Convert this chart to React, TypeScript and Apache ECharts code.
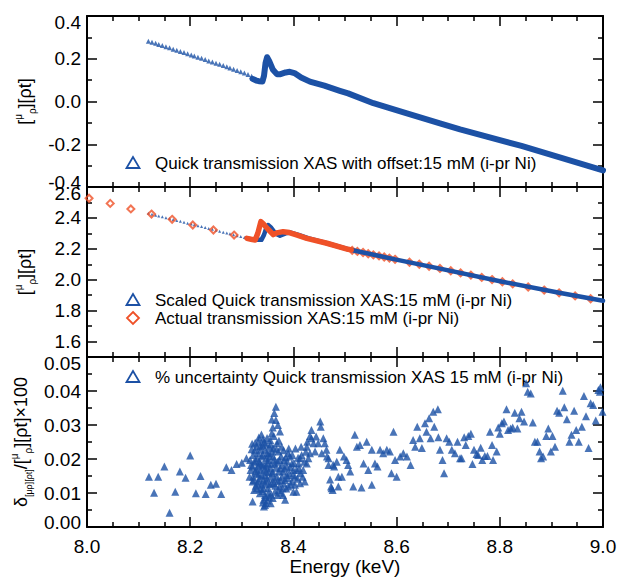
import React, { useEffect, useRef } from "react";
import * as echarts from "echarts";

const FONT = "'Liberation Sans', Arial, Helvetica, sans-serif";
const BLUE = "#1c51a5";
const RED = "#ef5128";

// ---------- Panel 1: quick transmission XAS with offset ----------
const p1PreX = [8.119, 8.126, 8.133, 8.139, 8.146, 8.153, 8.16, 8.167, 8.174, 8.181, 8.188, 8.195, 8.202, 8.208, 8.215, 8.222, 8.229, 8.236, 8.243, 8.25, 8.257, 8.264, 8.271, 8.277, 8.284, 8.291, 8.298, 8.305, 8.312, 8.319];
const p1PreY = [0.282, 0.277, 0.272, 0.267, 0.262, 0.256, 0.251, 0.245, 0.24, 0.234, 0.229, 0.223, 0.218, 0.213, 0.207, 0.202, 0.196, 0.19, 0.185, 0.179, 0.174, 0.168, 0.162, 0.157, 0.151, 0.145, 0.139, 0.133, 0.126, 0.118];
const p1EdgeX = [8.321, 8.328, 8.333, 8.34, 8.343, 8.346, 8.349, 8.353, 8.36, 8.368, 8.375, 8.385, 8.393, 8.402, 8.415, 8.432, 8.46, 8.49, 8.506, 8.555, 8.62, 8.684, 8.723, 8.842, 9.0];
const p1EdgeY = [0.106, 0.098, 0.095, 0.094, 0.12, 0.18, 0.207, 0.19, 0.15, 0.128, 0.128, 0.136, 0.139, 0.133, 0.112, 0.093, 0.074, 0.05, 0.038, -0.008, -0.055, -0.102, -0.13, -0.208, -0.322];

// ---------- Panel 2: scaled quick vs actual ----------
const p2QuickPreX = [8.119, 8.126, 8.133, 8.139, 8.146, 8.153, 8.16, 8.167, 8.174, 8.181, 8.188, 8.195, 8.202, 8.208, 8.215, 8.222, 8.229, 8.236, 8.243, 8.25, 8.257, 8.264, 8.271, 8.277, 8.284, 8.291, 8.298, 8.305, 8.312, 8.319];
const p2QuickPreY = [2.43, 2.424, 2.418, 2.413, 2.407, 2.401, 2.396, 2.39, 2.384, 2.378, 2.372, 2.366, 2.361, 2.356, 2.35, 2.344, 2.338, 2.332, 2.326, 2.32, 2.314, 2.308, 2.302, 2.297, 2.291, 2.285, 2.279, 2.273, 2.267, 2.262];
const p2QuickX = [8.322, 8.33, 8.338, 8.343, 8.347, 8.351, 8.356, 8.365, 8.374, 8.385, 8.395, 8.41, 8.43, 8.465, 8.506, 8.597, 8.684, 8.805, 8.915, 9.0];
const p2QuickY = [2.262, 2.258, 2.258, 2.29, 2.33, 2.354, 2.34, 2.3, 2.285, 2.3, 2.305, 2.29, 2.268, 2.236, 2.197, 2.132, 2.072, 1.987, 1.916, 1.864];
const p2ActualLineX = [8.31, 8.318, 8.326, 8.331, 8.337, 8.342, 8.35, 8.361, 8.37, 8.38, 8.392, 8.406, 8.426, 8.465, 8.506, 8.512];
const p2ActualLineY = [2.268, 2.262, 2.257, 2.3, 2.376, 2.36, 2.33, 2.292, 2.305, 2.311, 2.305, 2.29, 2.268, 2.236, 2.197, 2.193];
const p2ActualDotX = [8.004, 8.045, 8.085, 8.125, 8.165, 8.205, 8.245, 8.285, 8.514, 8.524, 8.535, 8.545, 8.555, 8.566, 8.576, 8.586, 8.597, 8.625, 8.644, 8.663, 8.684, 8.705, 8.724, 8.744, 8.765, 8.785, 8.805, 8.825, 8.855, 8.886, 8.915, 8.946, 8.976];
const p2ActualDotY = [2.527, 2.494, 2.458, 2.425, 2.391, 2.354, 2.322, 2.289, 2.19, 2.183, 2.176, 2.168, 2.161, 2.154, 2.147, 2.14, 2.132, 2.113, 2.1, 2.087, 2.073, 2.058, 2.044, 2.03, 2.015, 2.001, 1.987, 1.973, 1.953, 1.933, 1.915, 1.895, 1.877];

// ---------- Panel 3: % uncertainty [energy, value] ----------
const p3Points: [number, number][] = [
  [8.12, 0.0148], [8.13, 0.0101], [8.138, 0.0148], [8.15, 0.0178], [8.16, 0.0042], [8.171, 0.0104], [8.18, 0.0163], [8.191, 0.0145], [8.2, 0.021], [8.211, 0.0099], [8.22, 0.015], [8.23, 0.0097], [8.24, 0.0124], [8.25, 0.0127], [8.26, 0.0097], [8.27, 0.0176], [8.28, 0.0168], [8.29, 0.0185], [8.3, 0.0189], [8.309, 0.0202],
  [8.319, 0.0229], [8.322, 0.0212], [8.324, 0.0192], [8.321, 0.0178], [8.326, 0.0163], [8.322, 0.0148], [8.321, 0.0134], [8.327, 0.0121], [8.324, 0.0109], [8.332, 0.0251], [8.337, 0.0227], [8.338, 0.0207], [8.335, 0.0187], [8.337, 0.0168], [8.334, 0.0143], [8.338, 0.0124], [8.335, 0.0099], [8.321, 0.0075], [8.342, 0.008], [8.343, 0.006], [8.347, 0.007], [8.345, 0.0094], [8.342, 0.0114], [8.342, 0.0138], [8.345, 0.0153], [8.348, 0.0178], [8.351, 0.0197], [8.349, 0.0217], [8.353, 0.0236], [8.355, 0.0256], [8.358, 0.0276], [8.36, 0.0293], [8.366, 0.0315], [8.366, 0.0354], [8.374, 0.0281], [8.368, 0.0246], [8.371, 0.0222], [8.361, 0.0207], [8.364, 0.0187], [8.36, 0.0163], [8.368, 0.0148], [8.362, 0.0129], [8.371, 0.0109], [8.364, 0.0104], [8.36, 0.0085], [8.38, 0.0094], [8.384, 0.008], [8.379, 0.0114], [8.384, 0.0138], [8.38, 0.0163], [8.387, 0.0178], [8.382, 0.0197], [8.39, 0.0217], [8.377, 0.0236], [8.393, 0.0207], [8.397, 0.0187], [8.392, 0.0158], [8.397, 0.0134], [8.39, 0.0119], [8.4, 0.0104], [8.406, 0.0104], [8.403, 0.0148], [8.406, 0.0168], [8.41, 0.0187], [8.413, 0.0202], [8.416, 0.0212], [8.413, 0.0158], [8.419, 0.0168], [8.422, 0.0134], [8.426, 0.0187], [8.429, 0.0202], [8.432, 0.0217], [8.426, 0.0236], [8.435, 0.0261], [8.439, 0.0246], [8.444, 0.0266], [8.448, 0.0246], [8.452, 0.031], [8.453, 0.0295], [8.458, 0.0261], [8.461, 0.0246], [8.464, 0.0227], [8.455, 0.0217], [8.468, 0.0202], [8.471, 0.014], [8.474, 0.0114], [8.477, 0.0183], [8.484, 0.0192], [8.487, 0.0148], [8.442, 0.0222], [8.432, 0.0268], [8.427, 0.0251],
  [8.329, 0.0236], [8.33, 0.0202], [8.332, 0.0178], [8.329, 0.0158], [8.332, 0.0134], [8.329, 0.0114], [8.34, 0.0241], [8.345, 0.0227], [8.347, 0.0202], [8.343, 0.0183], [8.347, 0.0163], [8.348, 0.0134], [8.351, 0.0114], [8.353, 0.0089], [8.355, 0.0173], [8.356, 0.0148], [8.358, 0.0129], [8.353, 0.0217], [8.361, 0.0232], [8.373, 0.0197], [8.374, 0.0173], [8.375, 0.0138], [8.373, 0.0119], [8.387, 0.0153], [8.4, 0.0168], [8.403, 0.0124], [8.413, 0.0129], [8.317, 0.0168], [8.316, 0.0197], [8.315, 0.0148], [8.435, 0.0285], [8.465, 0.0207],
  [8.318, 0.0182], [8.32, 0.0245], [8.323, 0.0138], [8.325, 0.0226], [8.327, 0.0195], [8.328, 0.0171], [8.33, 0.0128], [8.331, 0.0218], [8.333, 0.0155], [8.333, 0.0263], [8.334, 0.0192], [8.336, 0.0112], [8.336, 0.0238], [8.339, 0.0183], [8.339, 0.0151], [8.34, 0.0106], [8.341, 0.0212], [8.341, 0.0258], [8.344, 0.0171], [8.344, 0.0127], [8.346, 0.0245], [8.346, 0.0088], [8.349, 0.0143], [8.349, 0.0262], [8.35, 0.0188], [8.352, 0.0162], [8.352, 0.0101], [8.354, 0.0207], [8.354, 0.0126], [8.356, 0.0243], [8.357, 0.0185], [8.357, 0.0095], [8.359, 0.0158], [8.359, 0.0222], [8.362, 0.0268], [8.363, 0.0142], [8.363, 0.0198], [8.365, 0.0121], [8.366, 0.0174], [8.367, 0.0229], [8.369, 0.0094], [8.369, 0.0192], [8.37, 0.0135], [8.372, 0.0254], [8.372, 0.0163], [8.376, 0.0208], [8.376, 0.0101], [8.378, 0.0182], [8.378, 0.0148], [8.381, 0.0226], [8.381, 0.0128], [8.383, 0.0172], [8.385, 0.0205], [8.386, 0.0113], [8.388, 0.0193], [8.389, 0.0144], [8.391, 0.0231], [8.394, 0.0176], [8.395, 0.0125], [8.398, 0.0212], [8.399, 0.0153], [8.401, 0.0188], [8.404, 0.0231], [8.408, 0.0142], [8.409, 0.0204], [8.411, 0.0173], [8.415, 0.0236], [8.418, 0.0148], [8.421, 0.0192], [8.424, 0.0221], [8.358, 0.0316], [8.363, 0.0335], [8.37, 0.03], [8.343, 0.0249], [8.338, 0.0272], [8.326, 0.0248], [8.345, 0.0065], [8.341, 0.0072], [8.35, 0.0078], [8.356, 0.007],
  [8.468, 0.0182], [8.473, 0.0119], [8.476, 0.0109], [8.479, 0.0178], [8.487, 0.0119], [8.49, 0.0227], [8.494, 0.0148], [8.498, 0.0207], [8.503, 0.0197], [8.506, 0.0182], [8.51, 0.0163], [8.516, 0.0119], [8.519, 0.0271], [8.523, 0.0236], [8.529, 0.0241], [8.532, 0.0116], [8.536, 0.0187], [8.542, 0.0251], [8.545, 0.0168], [8.552, 0.0227], [8.552, 0.0124], [8.558, 0.0187], [8.563, 0.0178], [8.568, 0.0227], [8.574, 0.0217], [8.581, 0.0227], [8.587, 0.0222], [8.59, 0.0158], [8.594, 0.028], [8.597, 0.0197], [8.6, 0.0148], [8.607, 0.0207], [8.613, 0.0217], [8.62, 0.0207], [8.627, 0.0182], [8.632, 0.0256], [8.636, 0.0236], [8.64, 0.0295], [8.645, 0.0261], [8.649, 0.0232], [8.655, 0.0305], [8.658, 0.028], [8.663, 0.032], [8.666, 0.0261], [8.671, 0.0339], [8.673, 0.0295], [8.68, 0.0346], [8.681, 0.0264],
  [8.684, 0.0227], [8.689, 0.0197], [8.692, 0.0158], [8.697, 0.0261], [8.702, 0.0251], [8.707, 0.0227], [8.713, 0.0217], [8.718, 0.0251], [8.723, 0.0202], [8.726, 0.0202], [8.731, 0.0264], [8.734, 0.0241], [8.739, 0.0268], [8.744, 0.0274], [8.747, 0.0185], [8.75, 0.0227], [8.755, 0.0215], [8.758, 0.0212], [8.763, 0.0233], [8.766, 0.0197], [8.771, 0.0209], [8.776, 0.0209], [8.781, 0.028], [8.785, 0.0241], [8.787, 0.0197], [8.794, 0.0222], [8.797, 0.0293], [8.8, 0.0274], [8.804, 0.0305], [8.808, 0.031], [8.813, 0.0346], [8.816, 0.0285], [8.821, 0.029], [8.825, 0.0293], [8.829, 0.0336], [8.834, 0.029], [8.838, 0.032], [8.842, 0.0339], [8.847, 0.031], [8.851, 0.0423], [8.854, 0.0398], [8.86, 0.0393], [8.864, 0.0307], [8.868, 0.0251], [8.873, 0.0251], [8.877, 0.0222], [8.88, 0.0202], [8.884, 0.0207], [8.89, 0.0268], [8.894, 0.029], [8.899, 0.0222], [8.902, 0.0268], [8.907, 0.0236], [8.911, 0.0342], [8.915, 0.0336], [8.922, 0.0401], [8.925, 0.0352], [8.93, 0.0317], [8.935, 0.0251], [8.939, 0.0271], [8.944, 0.0342], [8.948, 0.0285], [8.953, 0.0251], [8.959, 0.0295], [8.963, 0.0385], [8.967, 0.0326], [8.972, 0.0232], [8.976, 0.0364], [8.981, 0.0359], [8.986, 0.0313], [8.991, 0.0403], [8.995, 0.0411], [8.999, 0.0339], [8.994, 0.0398],
];

const p2MajorTicks = [1.6, 1.8, 2.0, 2.2, 2.4, 2.6];
const p2MinorTicks = [1.5, 1.7, 1.9, 2.1, 2.3, 2.5];

const legend1 = "Quick transmission XAS with offset:15 mM (i-pr Ni)";
const legend2a = "Scaled Quick transmission XAS:15 mM (i-pr Ni)";
const legend2b = "Actual transmission XAS:15 mM (i-pr Ni)";
const legend3 = "% uncertainty Quick transmission XAS 15 mM (i-pr Ni)";

const zip = (xs: number[], ys: number[]) => xs.map((x, i) => [x, ys[i]]);

const GRIDS = [
  { left: 87, right: 17, top: 16, height: 171 },
  { left: 87, right: 17, top: 187, height: 170 },
  { left: 87, right: 17, top: 357, height: 170 },
];

const TICK_FS = 19;
const lineS = { color: "#000", width: 2 };
const tickS = { color: "#000", width: 1.5 };
const labelRich = {
  t: { padding: [13, 0, 0, 0], fontSize: TICK_FS, fontFamily: FONT, color: "#000" },
  b: { padding: [0, 0, 9, 0], fontSize: TICK_FS, fontFamily: FONT, color: "#000" },
};

function xAx(gridIndex: number, position: string, labels: boolean) {
  return {
    type: "value",
    gridIndex,
    position,
    min: 8,
    max: 9,
    interval: 0.2,
    axisLine: { show: true, onZero: false, lineStyle: lineS },
    axisTick: { show: true, inside: true, length: 10, lineStyle: tickS },
    minorTick: { show: true, splitNumber: 4, length: 5, lineStyle: tickS },
    splitLine: { show: false },
    minorSplitLine: { show: false },
    axisLabel: {
      show: labels,
      fontSize: TICK_FS,
      color: "#000",
      fontFamily: FONT,
      margin: 10,
      formatter: (v: number) => v.toFixed(1),
    },
    name: labels ? "Energy (keV)" : "",
    nameLocation: "middle",
    nameGap: 30,
    nameTextStyle: { fontSize: 19, color: "#000", fontFamily: FONT },
  };
}

const richName = {
  m: { fontSize: 18, fontFamily: FONT, color: "#000", lineHeight: 24 },
  u: { fontSize: 10, fontFamily: FONT, color: "#000", verticalAlign: "top", lineHeight: 24 },
  d: { fontSize: 10, fontFamily: FONT, color: "#000", verticalAlign: "bottom", lineHeight: 24 },
  s: { fontSize: 9, fontFamily: FONT, color: "#000", verticalAlign: "bottom", lineHeight: 24 },
};

function yAx(gridIndex: number, position: string, min: number, max: number, interval: number, split: number, digits: number, name: string) {
  const left = position === "left";
  return {
    type: "value",
    gridIndex,
    position,
    min,
    max,
    interval,
    axisLine: { show: true, onZero: false, lineStyle: lineS },
    axisTick: { show: true, inside: true, length: 10, lineStyle: tickS },
    minorTick: { show: true, splitNumber: split, length: 5, lineStyle: tickS },
    splitLine: { show: false },
    minorSplitLine: { show: false },
    axisLabel: {
      show: left,
      fontSize: TICK_FS,
      color: "#000",
      fontFamily: FONT,
      margin: 6,
      rich: labelRich,
      formatter: (v: number) => {
        const s = (Math.abs(v) < 1e-9 ? 0 : v).toFixed(digits);
        if (Math.abs(v - max) < 1e-9) return "{t|" + s + "}";
        if (Math.abs(v - min) < 1e-9) return "{b|" + s + "}";
        return s;
      },
    },
    name: left ? name : "",
    nameLocation: "middle",
    nameGap: 50,
    nameTextStyle: { fontSize: 18, color: "#000", fontFamily: FONT, rich: richName },
  };
}

function yAxCustom(gridIndex: number, position: string, ticks: number[], len: number, labels: boolean, name: string) {
  return {
    type: "value",
    gridIndex,
    position,
    min: 1.5,
    max: 2.6,
    axisLine: { show: len === 10, onZero: false, lineStyle: lineS },
    axisTick: { show: true, inside: true, length: len, lineStyle: tickS, customValues: ticks },
    splitLine: { show: false },
    axisLabel: {
      show: labels,
      customValues: ticks,
      fontSize: TICK_FS,
      color: "#000",
      fontFamily: FONT,
      margin: 6,
      rich: labelRich,
      formatter: (v: number) => {
        const s = v.toFixed(1);
        return Math.abs(v - 2.6) < 1e-9 ? "{t|" + s + "}" : s;
      },
    },
    name: labels ? name : "",
    nameLocation: "middle",
    nameGap: 50,
    nameTextStyle: { fontSize: 18, color: "#000", fontFamily: FONT, rich: richName },
  };
}

function legendTri(cx: number, cy: number) {
  return {
    type: "polygon",
    shape: { points: [[cx, cy - 6], [cx - 6.5, cy + 5], [cx + 6.5, cy + 5]] },
    style: { fill: "none", stroke: BLUE, lineWidth: 1.8 },
  };
}
function legendDia(cx: number, cy: number) {
  return {
    type: "polygon",
    shape: { points: [[cx, cy - 6], [cx + 6, cy], [cx, cy + 6], [cx - 6, cy]] },
    style: { fill: "none", stroke: RED, lineWidth: 1.8 },
  };
}
function legendText(x: number, y: number, text: string) {
  return {
    type: "text",
    x,
    y,
    style: { text, fontSize: 17, fontFamily: FONT, fill: "#000", verticalAlign: "middle", align: "left" },
  };
}

export default function App() {
  const ref = useRef<HTMLDivElement>(null);
  useEffect(() => {
    if (!ref.current) return;
    const chart = echarts.init(ref.current, undefined, { renderer: "svg" });
    const name1 = "{m|[}{u|μ}{d|ρ}{m|][ρt]}";
    const name3 = "{m|δ}{s|[μρ][ρt]}{m|/[}{u|μ}{d|ρ}{m|][ρt]×100}";
    chart.setOption({
      animation: false,
      backgroundColor: "#fff",
      grid: GRIDS,
      xAxis: [
        xAx(0, "bottom", false),
        xAx(0, "top", false),
        xAx(1, "bottom", false),
        xAx(1, "top", false),
        xAx(2, "bottom", true),
        xAx(2, "top", false),
      ],
      yAxis: [
        yAx(0, "left", -0.4, 0.4, 0.2, 2, 1, name1),
        yAx(0, "right", -0.4, 0.4, 0.2, 2, 1, ""),
        yAxCustom(1, "left", p2MajorTicks, 10, true, name1),
        yAxCustom(1, "left", p2MinorTicks, 5, false, ""),
        yAxCustom(1, "right", p2MajorTicks, 10, false, ""),
        yAxCustom(1, "right", p2MinorTicks, 5, false, ""),
        yAx(2, "left", 0, 0.05, 0.01, 2, 2, name3),
        yAx(2, "right", 0, 0.05, 0.01, 2, 2, ""),
      ],
      series: [
        {
          type: "scatter", xAxisIndex: 0, yAxisIndex: 0,
          data: zip(p1PreX, p1PreY), symbol: "triangle", symbolSize: 5,
          itemStyle: { color: BLUE },
        },
        {
          type: "line", xAxisIndex: 0, yAxisIndex: 0,
          data: zip(p1EdgeX, p1EdgeY), showSymbol: false, symbol: "none",
          lineStyle: { color: BLUE, width: 6, join: "round", cap: "round" },
        },
        {
          type: "scatter", xAxisIndex: 2, yAxisIndex: 2,
          data: zip(p2QuickPreX, p2QuickPreY), symbol: "triangle", symbolSize: 3,
          itemStyle: { color: BLUE },
        },
        {
          type: "line", xAxisIndex: 2, yAxisIndex: 2,
          data: zip(p2QuickX, p2QuickY), showSymbol: false, symbol: "none",
          lineStyle: { color: BLUE, width: 4.5, join: "round", cap: "round" },
        },
        {
          type: "line", xAxisIndex: 2, yAxisIndex: 2,
          data: zip(p2ActualLineX, p2ActualLineY), showSymbol: false, symbol: "none",
          lineStyle: { color: RED, width: 5.5, join: "round", cap: "round" },
        },
        {
          type: "scatter", xAxisIndex: 2, yAxisIndex: 2,
          data: zip(p2ActualDotX, p2ActualDotY), symbol: "diamond", symbolSize: 7,
          itemStyle: { color: "rgba(255,255,255,0)", borderColor: RED, borderWidth: 2 },
        },
        {
          type: "scatter", xAxisIndex: 4, yAxisIndex: 6,
          data: p3Points, symbol: "triangle", symbolSize: 8,
          itemStyle: { color: BLUE },
        },
      ],
      graphic: [
        legendTri(133, 163), legendText(155, 163, legend1),
        legendTri(133, 300), legendText(155, 300, legend2a),
        legendDia(133, 318), legendText(155, 318, legend2b),
        legendTri(133, 377), legendText(155, 377, legend3),
      ],
    });
    return () => chart.dispose();
  }, []);
  return <div ref={ref} style={{ position: "absolute", left: 0, top: 0, width: 620, height: 579 }} />;
}
